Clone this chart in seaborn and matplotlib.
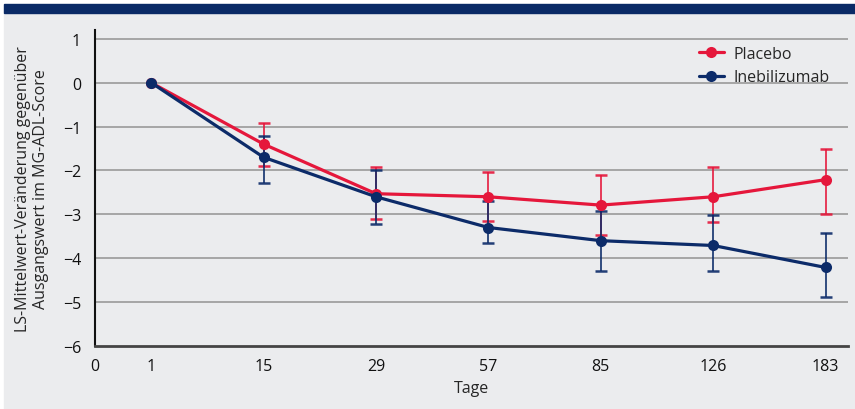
import matplotlib
matplotlib.use("Agg")
import matplotlib.pyplot as plt
import matplotlib.patches as mpatches
import numpy as np
import pandas as pd
import seaborn as sns

days = ["1", "15", "29", "57", "85", "126", "183"]
placebo = [0, -1.4, -2.53, -2.6, -2.79, -2.6, -2.21]
placebo_lo = [0, -1.9, -3.1, -3.15, -3.48, -3.17, -3.0]
placebo_hi = [0, -0.92, -1.93, -2.03, -2.11, -1.93, -1.52]
ineb = [0, -1.7, -2.6, -3.3, -3.6, -3.71, -4.21]
ineb_lo = [0, -2.28, -3.22, -3.66, -4.28, -4.28, -4.89]
ineb_hi = [0, -1.22, -2.0, -2.7, -2.92, -3.02, -3.42]

RED = "#E5173B"
NAVY = "#0C2B69"
BG = "#EBECEE"

sns.set_style("white")
plt.rcParams["font.family"] = ["Open Sans", "DejaVu Sans"]

pos = np.arange(len(days))
df = pd.concat([
    pd.DataFrame({"pos": pos, "val": placebo, "Gruppe": "Placebo"}),
    pd.DataFrame({"pos": pos, "val": ineb, "Gruppe": "Inebilizumab"}),
])

fig = plt.figure(figsize=(8.55, 4.1), dpi=100)
fig.patch.set_facecolor("white")
fig.patches.append(mpatches.Rectangle((4 / 855, 0), 1, 396 / 410, transform=fig.transFigure,
                                      color=BG, zorder=-10))
fig.patches.append(mpatches.Rectangle((4 / 855, 396 / 410), 1, 9 / 410, transform=fig.transFigure,
                                      color="#0A2A66", zorder=-9))

ax = fig.add_axes([95 / 855, 1 - 347 / 410, 753 / 855, 316 / 410])
ax.set_facecolor(BG)

for vals, lo, hi, col in [(placebo, placebo_lo, placebo_hi, RED), (ineb, ineb_lo, ineb_hi, NAVY)]:
    v = np.array(vals)
    yerr = np.vstack([v - np.array(lo), np.array(hi) - v])
    ax.errorbar(pos[1:], v[1:], yerr=yerr[:, 1:], fmt="none", ecolor=col, elinewidth=1.3,
                capsize=4, capthick=1.8, zorder=3, alpha=0.9)

sns.lineplot(data=df, x="pos", y="val", hue="Gruppe", hue_order=["Placebo", "Inebilizumab"],
             palette=[RED, NAVY], marker="o", markersize=8, markeredgewidth=0, linewidth=2.3,
             ax=ax, zorder=4)

ax.set_xlim(-0.5, 6.2)
ax.set_ylim(-6, 1.2)
ax.set_xticks([-0.5] + list(pos))
ax.set_xticklabels(["0"] + days)
ax.set_yticks(range(-6, 2))
ax.set_yticklabels([str(t).replace("-", "\u2212") for t in range(-6, 2)])
for t in range(-5, 2):
    ax.axhline(t, color="#A6A6A6", linewidth=1.4, zorder=1)

for s in ["top", "right"]:
    ax.spines[s].set_visible(False)
ax.spines["left"].set_color("#111111")
ax.spines["left"].set_linewidth(1.5)
ax.spines["bottom"].set_color("#444444")
ax.spines["bottom"].set_linewidth(2)
ax.tick_params(axis="both", direction="out", length=4, width=1.2, labelsize=11.5,
               colors="#111111", pad=6)
ax.tick_params(axis="x", pad=5)

ax.set_xlabel("Tage", fontsize=11.5, labelpad=4)
ax.set_ylabel("LS-Mittelwert-Veränderung gegenüber\nAusgangswert im MG-ADL-Score",
              fontsize=11.5, labelpad=10, linespacing=1.2)

leg = ax.legend(loc="upper right", bbox_to_anchor=(0.995, 0.995), frameon=False, fontsize=11.5,
                handlelength=1.6, handletextpad=0.6, labelspacing=0.45)

fig.savefig("out.png", dpi=100, facecolor=fig.get_facecolor())
